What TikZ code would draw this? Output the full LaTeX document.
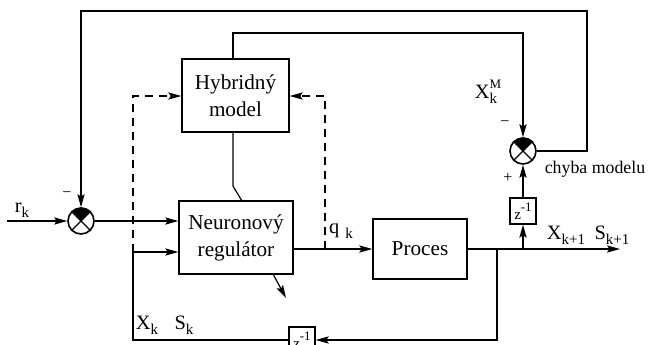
\documentclass[tikz,border=0pt]{standalone}
\usepackage{fontspec}
\setmainfont{Liberation Serif}
\usetikzlibrary{arrows.meta,calc}
\newcommand{\lowsub}[1]{\raisebox{-0.55ex}{\fontsize{7.5}{8}\selectfont #1}}
\newcommand{\highsup}[1]{\raisebox{1.1ex}{\fontsize{6.5}{7}\selectfont #1}}
\begin{document}
\begin{tikzpicture}[x=0.5pt,y=-0.5pt,
  line width=0.6pt,
  arr/.style={-{Stealth[length=6.5pt,width=3.6pt,inset=1.2pt]}},
  blockbox/.style={draw,line width=0.7pt,align=center,inner sep=0pt,
    font=\fontsize{10.6}{13.5}\selectfont},
  delaybox/.style={draw,line width=0.7pt,minimum width=13pt,minimum height=13pt,
    inner sep=0pt,font=\fontsize{7.5}{8}\selectfont},
  sumnode/.style={draw,circle,line width=0.8pt,minimum size=13pt,inner sep=0pt},
  lbl/.style={inner sep=0pt,font=\fontsize{10.2}{12}\selectfont},
  small/.style={inner sep=0pt,font=\fontsize{8.9}{10}\selectfont}]
\useasboundingbox (0,0) rectangle (650,344);
\clip (0,0) rectangle (650,344);

% blocks
\node[blockbox,minimum width=53.5pt,minimum height=36.5pt] (hyb) at (235.5,95.5) {Hybridný\\model};
\node[blockbox,minimum width=57pt,minimum height=36.5pt] (neur) at (236,237.5) {Neuronový\\regulátor};
\node[blockbox,minimum width=47pt,minimum height=30pt] (proc) at (420,249) {Proces};
\node[delaybox] (zr) at (523,211) {z\highsup{-1}};
\node[delaybox] (zb) at (302,340) {z\highsup{-1}};

% summing junctions
\node[sumnode] (s1) at (81,221) {};
\node[sumnode] (s2) at (523,151) {};
\foreach \s in {s1,s2}{
  \fill (\s.center) -- (\s.45) arc[start angle=45,end angle=135,radius=6.5pt] -- cycle;
  \draw[line width=0.6pt] (\s.45) -- (\s.225) (\s.135) -- (\s.315);
}

% helper points
\coordinate (rin) at (7,221);
\coordinate (fb) at (133,252);
\coordinate (dl) at (133,96);
\coordinate (dr) at (325,96);
\coordinate (qline) at (325,249);
\coordinate (tap) at (523,249);
\coordinate (tap2) at (497,249);
\coordinate (yout) at (620,249);
\coordinate (hybtop) at (233,59);
\coordinate (hybbot) at (233,132);
\coordinate (kink) at (233,186);
\coordinate (neurtop) at (242,201);
\coordinate (nb1) at (273,274);
\coordinate (nb2) at (286,298);

% signal paths
\draw[arr] (rin) -- (s1.west);
\draw[arr] (s1.east) -- (s1.east -| neur.west);
\draw[arr] (fb) -- (fb -| neur.west);
\draw[arr] (neur.east |- proc.west) -- (proc.west);
\draw[arr] (proc.east) -- (yout);
\draw[arr] (tap) -- (zr.south);
\draw[arr] (zr.north) -- (s2.south);
\draw[arr] (tap2) -- (tap2 |- zb.east) -- (zb.east);
\draw (zb.west) -| (fb);
\draw[arr] (hybtop) -- (233,33) -| (s2.north);
\draw[arr] (s2.east) -- (587,151) -- (587,11) -| (s1.north);
\draw (hybbot) -- (kink) -- (neurtop);
\draw[arr] (nb1) -- (nb2);

% dashed training paths
\draw[arr,dashed,dash pattern=on 4pt off 3pt] (fb) -- (dl) -- (dl -| hyb.west);
\draw[arr,dashed,dash pattern=on 4pt off 3pt] (qline) -- (dr) -- (dr -| hyb.east);

% labels
\node[lbl] (lr) at (22,210) {r\lowsub{k}};
\node[lbl] (m1) at (67,195) {\fontsize{8}{9}\selectfont −};
\node[lbl] (m2) at (505,124) {\fontsize{8}{9}\selectfont −};
\node[lbl] (p2) at (508,178) {\fontsize{8}{9}\selectfont +};
\node[lbl] (lxm) at (486,92) {X\rlap{\highsup{M}}\lowsub{k}};
\node[lbl] (lq) at (341,231) {q\,\lowsub{\,k}};
\node[lbl] (lx1) at (566,235) {X\lowsub{k+1}};
\node[lbl] (ls1) at (612,235) {S\lowsub{k+1}};
\node[lbl] (lxk) at (147,325) {X\lowsub{k}};
\node[lbl] (lsk) at (184,325) {S\lowsub{k}};
\node[small] (chyba) at (595,169) {chyba modelu};
\end{tikzpicture}
\end{document}
